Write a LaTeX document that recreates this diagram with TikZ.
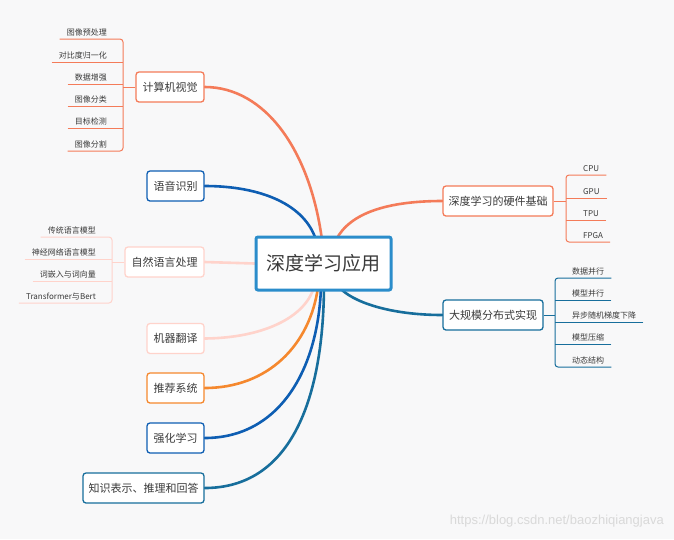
\documentclass[tikz,border=0pt]{standalone}
\usepackage{fontspec}
\setmainfont{Noto Sans CJK SC}
\newfontfamily\wmfont{Liberation Sans}
\definecolor{bg}{HTML}{F8F8F9}
\definecolor{txt}{HTML}{3A3A3A}
\definecolor{coral}{HTML}{F47B59}
\definecolor{blueA}{HTML}{0E5EB3}
\definecolor{pinkA}{HTML}{FFD3CB}
\definecolor{orangeA}{HTML}{F5882E}
\definecolor{tealA}{HTML}{176E9C}
\definecolor{ctr}{HTML}{2B8DCB}
\definecolor{wm}{HTML}{D9D9D9}
\pgfdeclarelayer{bgl}
\pgfdeclarelayer{conl}
\pgfsetlayers{bgl,conl,main}
\tikzset{
  nd/.style={draw, rounded corners=3pt, line width=1.3pt, fill=white, minimum height=30pt,
    inner sep=0pt, font=\fontsize{11}{13}\selectfont, text=txt},
  leaf/.style={inner xsep=7pt, inner ysep=2pt, text height=7pt, text depth=1pt,
    font=\fontsize{8}{9}\selectfont, text=txt},
  conn/.style={line width=2.6pt, line cap=round},
  sub/.style={line width=1pt, rounded corners=3pt},
}
\begin{document}
\begin{tikzpicture}[x=1pt,y=-1pt]
\begin{pgfonlayer}{bgl}
\fill[bg] (0,0) rectangle (674,539);
\end{pgfonlayer}
\useasboundingbox (0,0) rectangle (674,539);

% centre
\node[draw=ctr, line width=3pt, fill=white, minimum width=135pt, minimum height=53pt,
  rounded corners=2pt, inner sep=0pt, font=\fontsize{19}{22}\selectfont, text=txt] (c) at (323.5,263.5) {深度学习应用};

% main branches
\node[nd, draw=coral, minimum width=68pt] (cv) at (170,87) {计算机视觉};
\node[nd, draw=blueA, minimum width=57pt] (sr) at (175.5,186) {语音识别};
\node[nd, draw=pinkA, minimum width=79pt] (nlp) at (164.5,262) {自然语言处理};
\node[nd, draw=pinkA, minimum width=57pt] (mt) at (175.5,338.5) {机器翻译};
\node[nd, draw=orangeA, minimum width=57pt] (rs) at (175.5,388) {推荐系统};
\node[nd, draw=blueA, minimum width=57pt] (rl) at (175.5,438) {强化学习};
\node[nd, draw=tealA, minimum width=121pt] (kr) at (143.5,488) {知识表示、推理和回答};
\node[nd, draw=coral, minimum width=110pt] (hw) at (498,201) {深度学习的硬件基础};
\node[nd, draw=tealA, minimum width=100pt] (ds) at (493,315) {大规模分布式实现};

% connectors
\begin{pgfonlayer}{conl}
\draw[conn, coral] (cv.east) .. controls (265,87) and (310,150) .. (322,240);
\draw[conn, blueA] (sr.east) .. controls (262,186) and (305,205) .. (316,240);
\draw[conn, pinkA] (nlp.east) -- (c.west);
\draw[conn, pinkA] (mt.east) .. controls (262,338) and (305,318) .. (314,287);
\draw[conn, orangeA] (rs.east) .. controls (268,388) and (310,345) .. (318,287);
\draw[conn, blueA] (rl.east) .. controls (278,438) and (318,372) .. (321,287);
\draw[conn, tealA] (kr.east) .. controls (288,488) and (323,405) .. (324,287);
\draw[conn, coral] (hw.west) .. controls (390,201) and (350,212) .. (336,240);
\draw[conn, tealA] (ds.west) .. controls (390,315) and (352,302) .. (339,287);
\end{pgfonlayer}

% computer vision children
\node[leaf, anchor=south east] (cv1) at (114,39) {图像预处理};
\node[leaf, anchor=south east] (cv2) at (114,62) {对比度归一化};
\node[leaf, anchor=south east] (cv3) at (114,84) {数据增强};
\node[leaf, anchor=south east] (cv4) at (114,106) {图像分类};
\node[leaf, anchor=south east] (cv5) at (114,128) {目标检测};
\node[leaf, anchor=south east] (cv6) at (114,151) {图像分割};
\coordinate (cvt) at (123,39); \coordinate (cvb) at (123,151);
\draw[sub, coral] (cv1.south west) -- (cvt) -- (cvb) -- (cv6.south west);
\foreach \n in {cv2,cv3,cv4,cv5} \draw[sub, coral] (\n.south west) -- (\n.south west -| cvt);
\draw[sub, coral] (cv.west) -- (cv.west -| cvt);

% NLP children
\node[leaf, anchor=south east] (n1) at (103,237) {传统语言模型};
\node[leaf, anchor=south east] (n2) at (103,259) {神经网络语言模型};
\node[leaf, anchor=south east] (n3) at (103,281) {词嵌入与词向量};
\node[leaf, anchor=south east] (n4) at (103,303) {Transformer与Bert};
\coordinate (nt) at (112,237); \coordinate (nb) at (112,303);
\draw[sub, pinkA] (n1.south west) -- (nt) -- (nb) -- (n4.south west);
\foreach \n in {n2,n3} \draw[sub, pinkA] (\n.south west) -- (\n.south west -| nt);
\draw[sub, pinkA] (nlp.west) -- (nlp.west -| nt);

% hardware children
\node[leaf, anchor=south west] (h1) at (576,175) {CPU};
\node[leaf, anchor=south west] (h2) at (576,198) {GPU};
\node[leaf, anchor=south west] (h3) at (576,220) {TPU};
\node[leaf, anchor=south west] (h4) at (576,242) {FPGA};
\coordinate (ht) at (566,175); \coordinate (hb) at (566,242);
\draw[sub, coral] (h1.south east) -- (ht) -- (hb) -- (h4.south east);
\foreach \n in {h2,h3} \draw[sub, coral] (\n.south east) -- (\n.south east -| ht);
\draw[sub, coral] (hw.east) -- (hw.east -| ht);

% distributed children
\node[leaf, anchor=south west] (d1) at (565,278) {数据并行};
\node[leaf, anchor=south west] (d2) at (565,300) {模型并行};
\node[leaf, anchor=south west] (d3) at (565,322) {异步随机梯度下降};
\node[leaf, anchor=south west] (d4) at (565,344) {模型压缩};
\node[leaf, anchor=south west] (d5) at (565,367) {动态结构};
\coordinate (dt) at (555,278); \coordinate (db) at (555,367);
\draw[sub, tealA] (d1.south east) -- (dt) -- (db) -- (d5.south east);
\foreach \n in {d2,d3,d4} \draw[sub, tealA] (\n.south east) -- (\n.south east -| dt);
\draw[sub, tealA] (ds.east) -- (ds.east -| dt);

% watermark
\node[anchor=east, text=wm, font=\wmfont\fontsize{13}{15}\selectfont, inner sep=0pt] (wmk) at (664,521) {https://blog.csdn.net/baozhiqiangjava};
\end{tikzpicture}
\end{document}
